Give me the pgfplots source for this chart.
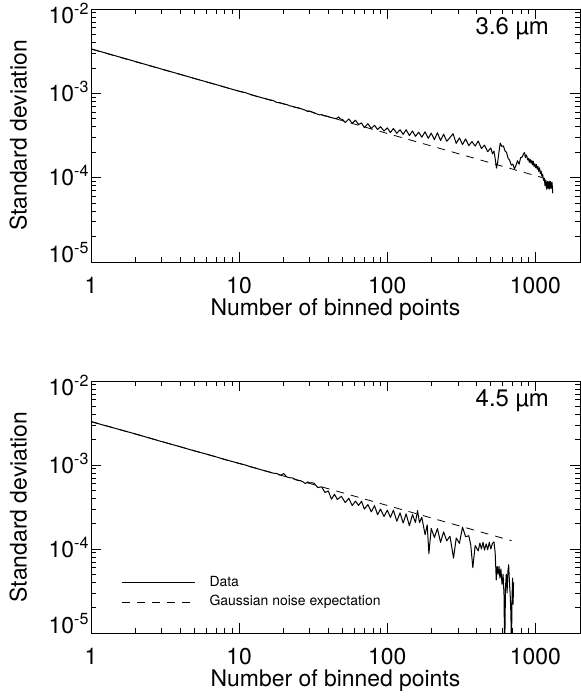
\documentclass[border=0pt]{standalone}
\usepackage{fontspec}
\setmainfont{TeX Gyre Heros}
\usepackage{pgfplots}
\pgfplotsset{compat=1.18}
\tikzset{
 dataline/.style={black, line width=1bp, line join=round},
 expline/.style={black, line width=0.8bp, dash pattern=on 8bp off 7bp},
}
\pgfplotsset{
  every axis/.append style={
  scale only axis, width=489bp,
  axis line style={line width=0.9bp},
  tick style={line width=0.8bp, black},
  major tick length=9.8bp, minor tick length=4.9bp,
  tick align=inside,
  ticklabel style={font=\fontsize{23}{27}\selectfont},
  xticklabel style={anchor=base, yshift=-31bp},
  yticklabel style={anchor=base east, yshift=-8.2bp, xshift=1.5bp},
  label style={font=\fontsize{23}{27}\selectfont},
  },
  every axis x label/.style={at={(axis description cs:0.5,-0.2134)}, anchor=base},
  every axis y label/.style={at={(axis description cs:-0.1315,0.5)}, anchor=base, rotate=90},
}
\begin{document}
\begin{tikzpicture}
\useasboundingbox (0,0) rectangle (581bp,698bp);
% ---------------- top panel: 3.6 micron ----------------
\begin{axis}[xmode=log, ymode=log, height=253bp,
  xmin=1, xmax=2000, ymin=1e-5, ymax=1e-2,
  xtick={1,10,100,1000}, xticklabels={1,10,100,1000},
  minor xtick={2,3,4,5,6,7,8,9,20,30,40,50,60,70,80,90,200,300,400,500,600,700,800,900,2000},
  ytick={1e-5,1e-4,1e-3,1e-2},
  minor ytick={2e-5,3e-5,4e-5,5e-5,6e-5,7e-5,8e-5,9e-5,2e-4,3e-4,4e-4,5e-4,6e-4,7e-4,8e-4,9e-4,2e-3,3e-3,4e-3,5e-3,6e-3,7e-3,8e-3,9e-3},
  yticklabels={\raisebox{8bp}{10\textsuperscript{-5}},10\textsuperscript{-4},10\textsuperscript{-3},\raisebox{-6bp}{10\textsuperscript{-2}}},
  xlabel={Number of binned points},
  ylabel={Standard deviation},
  at={(91bp,436bp)}, anchor=south west]
\addplot[dataline] coordinates {
(1,3.37e-3)(2,2.38e-3)(3,1.94e-3)(4,1.68e-3)(5,1.50e-3)(6,1.37e-3)(7,1.27e-3)(8,1.185e-3)(9,1.115e-3)(10,1.06e-3)
(11,1.02e-3)(12,0.965e-3)(13,0.925e-3)(14,0.895e-3)(15,0.865e-3)(16,0.84e-3)(17,0.82e-3)(18,0.78e-3)(19,0.77e-3)(20,0.75e-3)
(21,0.735e-3)(22,0.71e-3)(23,0.70e-3)(24,0.68e-3)(25,0.675e-3)(26,0.66e-3)(27,0.645e-3)(28,0.63e-3)(29,0.61e-3)(30,0.615e-3)
(31,0.60e-3)(32,0.585e-3)(33,0.575e-3)(34,0.565e-3)(35,0.555e-3)(36,0.56e-3)(37,0.545e-3)(38,0.54e-3)(39,0.535e-3)(40,0.53e-3)
(41,0.52e-3)(42,0.515e-3)(43,0.51e-3)(44,0.505e-3)(45,0.50e-3)(46,0.51e-3)(47,0.525e-3)(48,0.50e-3)
(50,4.88e-4)(52,4.51e-4)(55,4.97e-4)(58,4.40e-4)(61,4.80e-4)(64,4.27e-4)(67,4.46e-4)(70,3.92e-4)(74,4.36e-4)(78,3.83e-4)
(82,4.18e-4)(86,3.72e-4)(90,4.02e-4)(95,3.58e-4)(100,3.89e-4)(105,3.43e-4)(110,3.83e-4)(116,3.36e-4)(122,3.70e-4)(128,3.26e-4)
(134,3.70e-4)(141,3.16e-4)(148,3.58e-4)(155,3.09e-4)(163,3.46e-4)(171,3.02e-4)(180,3.50e-4)(189,2.93e-4)(198,3.38e-4)(208,2.83e-4)
(218,3.41e-4)(229,2.76e-4)(240,3.28e-4)(252,2.70e-4)(265,2.99e-4)(278,3.32e-4)(292,2.55e-4)(307,2.96e-4)(322,2.47e-4)(338,2.88e-4)
(355,2.40e-4)(373,2.68e-4)(392,2.37e-4)(411,2.72e-4)(432,2.22e-4)(453,2.43e-4)(476,2.03e-4)(500,2.25e-4)(513,1.92e-4)(525,2.07e-4)
(538,1.58e-4)(546,1.30e-4)(556,1.52e-4)(566,1.95e-4)(579,2.57e-4)(593,2.35e-4)(608,2.38e-4)(623,2.08e-4)(638,2.00e-4)(654,1.70e-4)
(670,1.61e-4)(687,1.41e-4)(704,1.45e-4)(723,1.27e-4)(739,1.40e-4)(757,1.59e-4)(776,1.44e-4)(795,1.73e-4)(815,1.76e-4)(835,1.95e-4)
(845,1.98e-4)(856,1.72e-4)(866,1.86e-4)(877,1.78e-4)(887,1.62e-4)(898,1.69e-4)(909,1.52e-4)(920,1.66e-4)(932,1.49e-4)(943,1.60e-4)
(955,1.42e-4)(966,1.57e-4)(978,1.36e-4)(990,1.46e-4)(1003,1.31e-4)(1015,1.44e-4)(1028,1.26e-4)(1040,1.36e-4)(1053,1.19e-4)(1066,1.31e-4)
(1079,1.12e-4)(1092,1.20e-4)(1105,1.04e-4)(1119,1.10e-4)(1133,0.93e-4)(1147,0.99e-4)(1161,0.80e-4)(1175,0.94e-4)(1190,0.73e-4)(1205,0.90e-4)
(1220,0.74e-4)(1235,0.91e-4)(1250,0.73e-4)(1265,0.90e-4)(1280,0.75e-4)(1295,0.88e-4)(1310,0.65e-4)
};
\addplot[expline] coordinates {(1,3.35e-3)(1117,1.0e-4)};
\node[anchor=base east, font=\fontsize{24}{28}\selectfont, inner sep=0pt] at (axis description cs:0.9366,0.900) {3.6 µm};
\end{axis}
% ---------------- bottom panel: 4.5 micron ----------------
\begin{axis}[xmode=log, ymode=log, height=252bp,
  xmin=1, xmax=2000, ymin=1e-5, ymax=1e-2,
  xtick={1,10,100,1000}, xticklabels={1,10,100,1000},
  minor xtick={2,3,4,5,6,7,8,9,20,30,40,50,60,70,80,90,200,300,400,500,600,700,800,900,2000},
  ytick={1e-5,1e-4,1e-3,1e-2},
  minor ytick={2e-5,3e-5,4e-5,5e-5,6e-5,7e-5,8e-5,9e-5,2e-4,3e-4,4e-4,5e-4,6e-4,7e-4,8e-4,9e-4,2e-3,3e-3,4e-3,5e-3,6e-3,7e-3,8e-3,9e-3},
  yticklabels={\raisebox{8bp}{10\textsuperscript{-5}},10\textsuperscript{-4},10\textsuperscript{-3},\raisebox{-6bp}{10\textsuperscript{-2}}},
  xlabel={Number of binned points},
  ylabel={Standard deviation},
  at={(91bp,65bp)}, anchor=south west,
  legend cell align=left,
  legend image code/.code={\draw[#1, line width=0.8bp] (0bp,0bp) -- (73bp,0bp);},
  legend style={draw=none, fill=none, inner sep=0pt, outer sep=0pt,
    at={(axis description cs:0.0628,0.225)}, anchor=north west,
    font=\fontsize{14}{17}\selectfont, row sep=6.5bp, column sep=14bp,
    nodes={inner sep=0pt, text height=10bp, text depth=3bp}},
]
\addplot[dataline] coordinates {
(1,3.28e-3)(2,2.34e-3)(3,1.90e-3)(4,1.65e-3)(5,1.47e-3)(6,1.35e-3)(7,1.25e-3)(8,1.16e-3)(9,1.10e-3)(10,1.045e-3)
(11,1.0e-3)(12,0.95e-3)(13,0.915e-3)(14,0.88e-3)(15,0.85e-3)(16,0.825e-3)(17,0.80e-3)(18,0.79e-3)(19,0.755e-3)(20,0.79e-3)
(21,0.72e-3)(22,0.705e-3)(23,0.70e-3)(24,0.67e-3)(25,0.655e-3)(26,0.65e-3)(27,0.63e-3)(28,0.60e-3)(29,0.63e-3)(30,0.61e-3)(31,0.615e-3)
(32,6.07e-4)(34,5.38e-4)(36,5.50e-4)(38,4.71e-4)(40,4.90e-4)(42,3.92e-4)(44,4.48e-4)(46,3.89e-4)(49,4.24e-4)(52,3.57e-4)
(55,4.01e-4)(58,3.29e-4)(61,3.72e-4)(64,3.30e-4)(67,3.71e-4)(70,2.99e-4)(74,3.38e-4)(78,2.77e-4)(82,3.28e-4)(86,2.56e-4)
(90,2.99e-4)(95,2.44e-4)(100,2.90e-4)(105,2.38e-4)(110,2.90e-4)(116,2.14e-4)(122,2.69e-4)(128,2.04e-4)(134,2.62e-4)(141,1.89e-4)
(148,2.57e-4)(155,2.07e-4)(160,2.87e-4)(165,2.06e-4)(171,2.39e-4)(180,1.48e-4)(186,1.94e-4)(191,0.88e-4)(198,1.76e-4)(208,1.37e-4)
(218,1.75e-4)(229,1.20e-4)(240,1.60e-4)(252,1.25e-4)(265,1.42e-4)(280,0.78e-4)(292,1.35e-4)(307,1.17e-4)(322,1.82e-4)(338,1.40e-4)
(355,1.44e-4)(366,1.12e-4)(378,0.60e-4)(392,1.10e-4)(411,0.95e-4)(422,1.18e-4)(432,1.00e-4)(443,1.20e-4)(453,0.97e-4)(465,1.15e-4)
(476,0.98e-4)(488,1.20e-4)(500,1.00e-4)(513,1.17e-4)(525,1.22e-4)(535,0.90e-4)(544,0.43e-4)(552,0.62e-4)(560,0.50e-4)(568,0.62e-4)
(576,0.45e-4)(585,0.58e-4)(595,0.38e-4)(605,0.50e-4)(614,0.28e-4)(620,0.05e-4)(628,0.35e-4)(636,0.50e-4)(644,0.30e-4)(652,0.55e-4)
(660,0.65e-4)(668,0.40e-4)(676,0.28e-4)(683,0.17e-4)(689,0.06e-4)(695,0.25e-4)(701,0.45e-4)(707,0.22e-4)(712,0.40e-4)
};
\addlegendentry{Data}
\addplot[expline] coordinates {(1,3.3e-3)(690,1.256e-4)};
\addlegendentry{Gaussian noise expectation}
\node[anchor=base east, font=\fontsize{24}{28}\selectfont, inner sep=0pt] at (axis description cs:0.9366,0.900) {4.5 µm};
\end{axis}
\end{tikzpicture}
\end{document}
